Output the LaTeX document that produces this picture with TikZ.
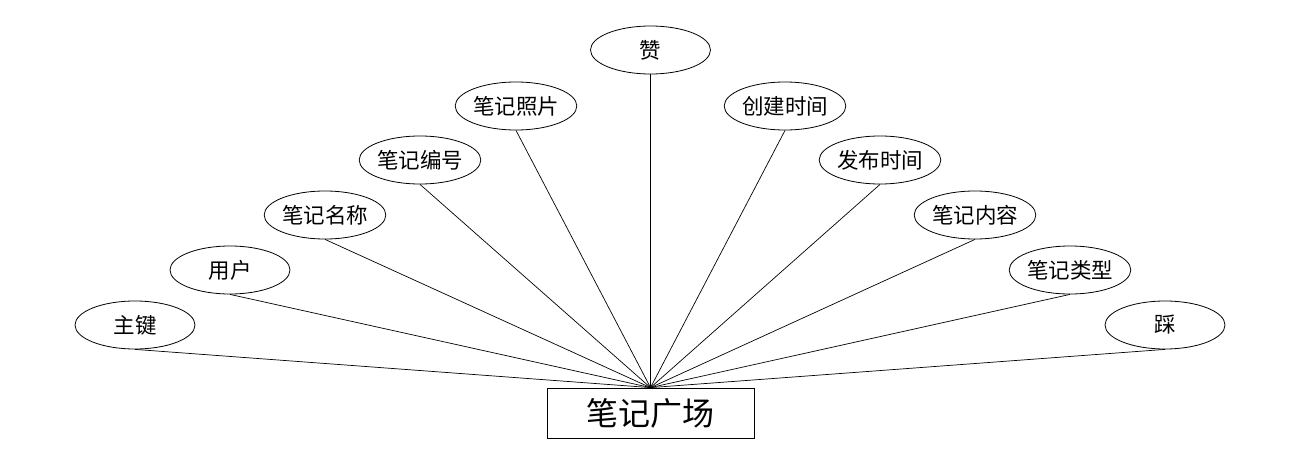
\documentclass[tikz,border=0pt]{standalone}
\usepackage{fontspec}
\setmainfont{Noto Sans CJK SC}
\usetikzlibrary{shapes.geometric}
\begin{document}
\begin{tikzpicture}[x=1pt,y=-1pt,
  attr/.style={ellipse,draw,line width=0.8pt,minimum width=120pt,minimum height=48pt,inner sep=0pt,font=\fontsize{21.5}{21.5}\selectfont},
  ent/.style={rectangle,draw,line width=0.8pt,minimum width=207pt,minimum height=50pt,inner sep=0pt,font=\fontsize{32}{32}\selectfont},
  conn/.style={line width=0.7pt}]
\useasboundingbox (0,0) rectangle (1300,468);
\node[ent] (e) at (650.5,413) {笔记广场};
\node[attr] (a1) at (135,325) {主键};
\node[attr] (a2) at (230,270) {用户};
\node[attr] (a3) at (325,215) {笔记名称};
\node[attr] (a4) at (420,160) {笔记编号};
\node[attr] (a5) at (516,106) {笔记照片};
\node[attr] (a6) at (650.5,50) {赞};
\node[attr] (a7) at (785,106) {创建时间};
\node[attr] (a8) at (880,160) {发布时间};
\node[attr] (a9) at (975,215) {笔记内容};
\node[attr] (a10) at (1070,270) {笔记类型};
\node[attr] (a11) at (1165,325) {踩};
\foreach \i in {1,...,11} \draw[conn] (a\i.south) -- (e.north);
\end{tikzpicture}
\end{document}
